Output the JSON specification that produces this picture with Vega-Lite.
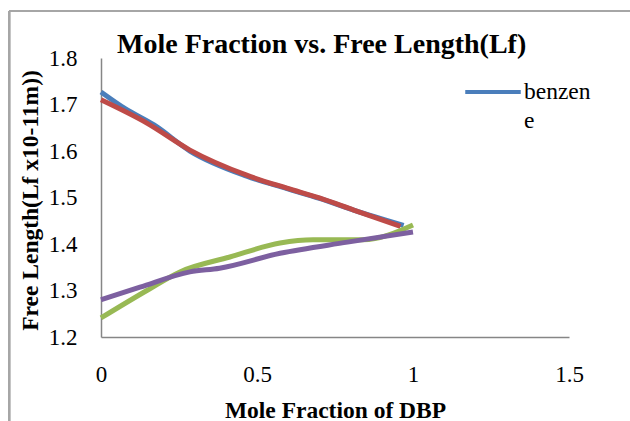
{
  "$schema": "https://vega.github.io/schema/vega-lite/v6.json",
  "width": 468,
  "height": 279,
  "autosize": {"type": "none"},
  "padding": {"left": 101, "top": 58, "right": 61, "bottom": 84},
  "background": "white",
  "title": {
    "text": "Mole Fraction vs. Free Length(Lf)",
    "font": "Liberation Serif",
    "fontSize": 28,
    "fontWeight": "bold",
    "color": "#000000",
    "anchor": "start",
    "frame": "group",
    "baseline": "alphabetic",
    "dx": 16,
    "dy": 73,
    "offset": 2
  },
  "data": {
    "values": [
      {"series": "benzene", "x": 0.0, "y": 1.727},
      {"series": "benzene", "x": 0.08, "y": 1.69},
      {"series": "benzene", "x": 0.17, "y": 1.656},
      {"series": "benzene", "x": 0.285, "y": 1.6},
      {"series": "benzene", "x": 0.467, "y": 1.546},
      {"series": "benzene", "x": 0.596, "y": 1.519},
      {"series": "benzene", "x": 0.70, "y": 1.498},
      {"series": "benzene", "x": 0.81, "y": 1.473},
      {"series": "benzene", "x": 0.97, "y": 1.44},
      {"series": "toluene", "x": 0.0, "y": 1.71},
      {"series": "toluene", "x": 0.147, "y": 1.66},
      {"series": "toluene", "x": 0.285, "y": 1.602},
      {"series": "toluene", "x": 0.467, "y": 1.548},
      {"series": "toluene", "x": 0.596, "y": 1.52},
      {"series": "toluene", "x": 0.70, "y": 1.499},
      {"series": "toluene", "x": 0.81, "y": 1.473},
      {"series": "toluene", "x": 0.96, "y": 1.438},
      {"series": "xylene", "x": 0.0, "y": 1.241},
      {"series": "xylene", "x": 0.147, "y": 1.3},
      {"series": "xylene", "x": 0.253, "y": 1.34},
      {"series": "xylene", "x": 0.413, "y": 1.372},
      {"series": "xylene", "x": 0.574, "y": 1.402},
      {"series": "xylene", "x": 0.68, "y": 1.409},
      {"series": "xylene", "x": 0.84, "y": 1.409},
      {"series": "xylene", "x": 1.0, "y": 1.441},
      {"series": "hexane", "x": 0.0, "y": 1.28},
      {"series": "hexane", "x": 0.125, "y": 1.307},
      {"series": "hexane", "x": 0.285, "y": 1.34},
      {"series": "hexane", "x": 0.38, "y": 1.348},
      {"series": "hexane", "x": 0.574, "y": 1.38},
      {"series": "hexane", "x": 0.79, "y": 1.404},
      {"series": "hexane", "x": 1.0, "y": 1.426}
    ]
  },
  "layer": [
    {
      "mark": {"type": "rule", "color": "#A6A6A6", "strokeWidth": 1.5},
      "encoding": {
        "x": {"datum": -0.294, "type": "quantitative"},
        "y": {"datum": 1.901, "type": "quantitative"},
        "y2": {"datum": 1.0}
      }
    },
    {
      "mark": {"type": "rule", "color": "#A6A6A6", "strokeWidth": 1.5},
      "encoding": {
        "x": {"datum": -0.294, "type": "quantitative"},
        "x2": {"datum": 1.8},
        "y": {"datum": 1.901, "type": "quantitative"}
      }
    },
    {
      "mark": {"type": "line", "interpolate": "monotone", "strokeWidth": 5, "strokeCap": "butt"},
      "encoding": {
        "x": {
          "field": "x",
          "type": "quantitative",
          "scale": {"domain": [0, 1.5], "nice": false, "zero": false},
          "axis": {
            "title": "Mole Fraction  of DBP",
            "values": [0, 0.5, 1, 1.5],
            "format": ".1~f",
            "grid": false,
            "ticks": false,
            "domainColor": "#868686",
            "domainWidth": 1.5,
            "labelFont": "Liberation Serif",
            "labelFontSize": 23,
            "labelColor": "#000000",
            "labelPadding": 26,
            "labelFlush": false,
            "titleFont": "Liberation Serif",
            "titleFontSize": 23.5,
            "titleFontWeight": "bold",
            "titleColor": "#000000",
            "titleBaseline": "alphabetic",
            "titleX": 234,
            "titleY": 80
          }
        },
        "y": {
          "field": "y",
          "type": "quantitative",
          "scale": {"domain": [1.2, 1.8], "nice": false, "zero": false},
          "axis": {
            "title": "Free Length(Lf x10-11m))",
            "values": [1.2, 1.3, 1.4, 1.5, 1.6, 1.7, 1.8],
            "format": ".1f",
            "grid": false,
            "ticks": false,
            "domainColor": "#868686",
            "domainWidth": 1.5,
            "labelFont": "Liberation Serif",
            "labelFontSize": 23,
            "labelColor": "#000000",
            "labelPadding": 24,
            "labelFlush": false,
            "titleFont": "Liberation Serif",
            "titleFontSize": 23.5,
            "titleFontWeight": "bold",
            "titleColor": "#000000",
            "titleAngle": -90,
            "titleAlign": "center",
            "titleBaseline": "middle",
            "titleX": -71,
            "titleY": 142
          }
        },
        "color": {
          "field": "series",
          "type": "nominal",
          "scale": {
            "domain": ["benzene", "toluene", "xylene", "hexane"],
            "range": ["#4A7EBB", "#BE4B48", "#98B954", "#7D60A0"]
          },
          "legend": {
            "values": ["benzene"],
            "orient": "none",
            "legendX": 362,
            "legendY": 4,
            "title": null,
            "symbolType": "stroke",
            "symbolSize": 3080,
            "symbolStrokeWidth": 4,
            "labelOffset": 1,
            "labelFont": "Liberation Serif",
            "labelFontSize": 23.5,
            "labelColor": "#000000",
            "labelExpr": "['benzen', 'e']"
          }
        }
      }
    }
  ],
  "config": {
    "view": {"stroke": null},
    "style": {"guide-label": {"lineHeight": 29, "font": "Liberation Serif"}}
  }
}
